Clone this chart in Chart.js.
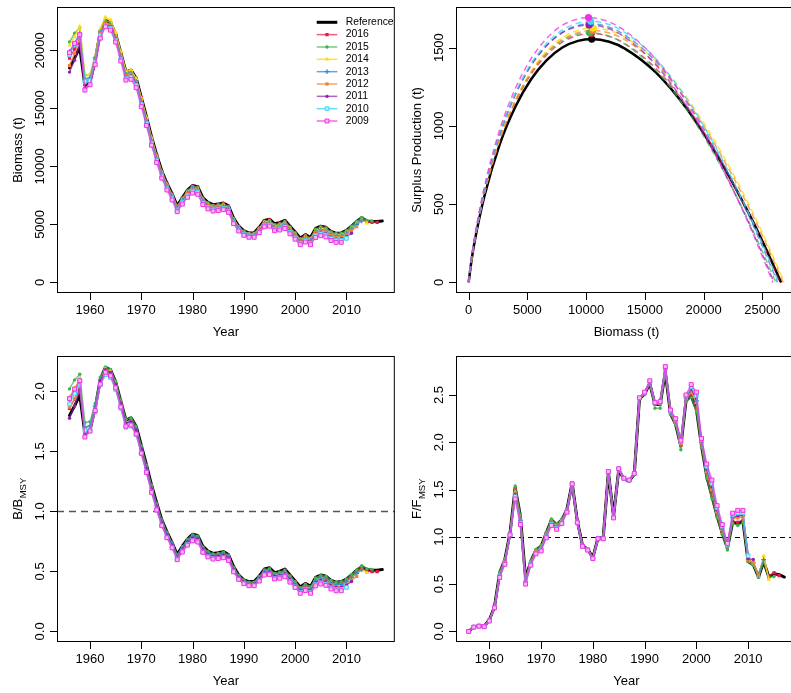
<!DOCTYPE html>
<html>
<head>
<meta charset="utf-8">
<script src="https://cdn.jsdelivr.net/npm/chart.js@4.4.1/dist/chart.umd.min.js"></script>
<style>
  html, body { margin: 0; padding: 0; background: #fff; overflow: hidden; }
  #wrap { position: relative; width: 791px; height: 693px; overflow: hidden; background: #fff; }
  canvas { position: absolute; }
</style>
</head>
<body>
<div id="wrap">
  <canvas id="bio" width="400" height="346" style="left:0;top:0;width:400px;height:346px"></canvas>
  <canvas id="sp" width="410" height="346" style="left:400px;top:0;width:410px;height:346px"></canvas>
  <canvas id="bb" width="400" height="347" style="left:0;top:346px;width:400px;height:347px"></canvas>
  <canvas id="ff" width="410" height="347" style="left:400px;top:346px;width:410px;height:347px"></canvas>
</div>
<script>
// retrospective runs: reference + peels 2016..2009
const years = [1956, 1957, 1958, 1959, 1960, 1961, 1962, 1963, 1964, 1965, 1966, 1967, 1968, 1969, 1970, 1971,
  1972, 1973, 1974, 1975, 1976, 1977, 1978, 1979, 1980, 1981, 1982, 1983, 1984, 1985, 1986, 1987, 1988, 1989,
  1990, 1991, 1992, 1993, 1994, 1995, 1996, 1997, 1998, 1999, 2000, 2001, 2002, 2003, 2004, 2005, 2006, 2007,
  2008, 2009, 2010, 2011, 2012, 2013, 2014, 2015, 2016, 2017];

const runLabels = ['2016', '2015', '2014', '2013', '2012', '2011', '2010', '2009'];
const runColors = ['#E8174B', '#3CB44B', '#FFDD10', '#2A8AD8', '#F58231', '#911EB4', '#42D4F4', '#F032E6'];
const runLineColors = ['rgba(232,23,75,0.7)', 'rgba(60,180,75,0.7)', 'rgba(255,221,16,0.85)', 'rgba(42,138,216,0.75)',
  'rgba(245,130,49,0.75)', 'rgba(145,30,180,0.7)', 'rgba(66,212,244,0.8)', 'rgba(240,50,230,0.75)'];
const runMarkers = ['rect', 'circle', 'triangle', 'cross', 'rect', 'circle', 'rect', 'rect'];
const runMarkerSize = [2.3, 1.7, 2.6, 2.4, 2.3, 1.7, 2.6, 2.8];
const runMarkerFill = ['#E8174B', '#3CB44B', '#FFDD10', '#2A8AD8', '#F58231', '#911EB4', '#B8F2FB', '#F9B8F4'];
const runMarkerBorder = [0, 0, 0, 1.2, 0, 0, 1, 1];

// Biomass (t)
const bioRef = [18500, 19350, 20250, 17000, 17300, 19150, 21600, 22600, 22400, 21400, 19800, 18150, 18300, 17600, 15950, 14300,
  12550, 11000, 9600, 8550, 7650, 6600, 7300, 7950, 8350, 8250, 7300, 6900, 6700, 6750, 6850, 6600, 5550, 4850, 4450, 4270,
  4270, 4750, 5350, 5450, 5050, 5150, 5350, 4850, 4350, 3820, 4120, 3870, 4650, 4850, 4750, 4400, 4230, 4270, 4480, 4850,
  5250, 5580, 5300, 5250, 5250, 5300];
const bio2016 = [19330, 20120, 20960, 17340, 17470, 19250, 21600, 22600, 22400, 21380, 19780, 18130, 18260, 17560, 15920, 14260,
  12510, 10970, 9560, 8520, 7610, 6570, 7260, 7910, 8310, 8210, 7260, 6850, 6650, 6700, 6800, 6550, 5490, 4800, 4410, 4230,
  4230, 4700, 5290, 5390, 4990, 5080, 5280, 4780, 4290, 3770, 4070, 3820, 4590, 4790, 4690, 4340, 4180, 4210, 4420, 4790,
  5180, 5510, 5230, 5180, 5180];
const bio2015 = [20720, 21480, 21970, 17850, 17910, 19440, 21710, 22600, 22380, 21380, 19760, 18100, 18230, 17530, 15870, 14210,
  12480, 10920, 9520, 8470, 7580, 6530, 7230, 7860, 8260, 8160, 7210, 6820, 6620, 6660, 6760, 6510, 5470, 4780, 4390, 4210,
  4210, 4670, 5260, 5350, 4950, 5050, 5240, 4740, 4250, 3720, 4030, 3790, 4570, 4780, 4690, 4360, 4200, 4250, 4470, 4850,
  5260, 5610, 5340, 5300];
const bio2014 = [20440, 21190, 22070, 17770, 17910, 19530, 21860, 22870, 22620, 21550, 19900, 18200, 18320, 17560, 15890, 14210,
  12440, 10880, 9480, 8420, 7510, 6470, 7150, 7780, 8170, 8060, 7130, 6730, 6530, 6580, 6670, 6420, 5400, 4710, 4320, 4150,
  4140, 4600, 5170, 5250, 4850, 4940, 5120, 4630, 4140, 3630, 3920, 3680, 4430, 4630, 4540, 4210, 4050, 4100, 4300, 4670,
  5060, 5380, 5110];
const bio2013 = [19890, 20610, 21470, 17510, 17650, 19340, 21600, 22370, 22150, 21140, 19540, 17900, 18030, 17320, 15670, 14030,
  12300, 10770, 9390, 8350, 7470, 6440, 7110, 7740, 8120, 8010, 7080, 6690, 6490, 6530, 6620, 6370, 5350, 4670, 4280, 4100,
  4100, 4550, 5100, 5190, 4790, 4870, 5050, 4560, 4080, 3570, 3860, 3630, 4370, 4560, 4470, 4150, 3990, 4040, 4240, 4600,
  4980, 5300];
const bio2012 = [18690, 19740, 20860, 17170, 17390, 19150, 21490, 22370, 22130, 21100, 19500, 17840, 17950, 17230, 15590, 13960,
  12220, 10690, 9310, 8280, 7400, 6370, 7040, 7660, 8030, 7930, 7010, 6620, 6420, 6460, 6550, 6300, 5290, 4620, 4240, 4060,
  4060, 4500, 5050, 5120, 4730, 4800, 4980, 4500, 4020, 3510, 3790, 3560, 4270, 4450, 4360, 4030, 3880, 3910, 4100, 4440,
  4800];
const bio2011 = [18130, 19160, 20550, 16750, 17040, 18860, 21280, 22260, 22020, 20990, 19380, 17710, 17820, 17110, 15470, 13840,
  12120, 10600, 9230, 8200, 7320, 6300, 6960, 7580, 7950, 7850, 6940, 6550, 6350, 6390, 6480, 6240, 5240, 4570, 4190, 4020,
  4010, 4450, 4980, 5050, 4660, 4730, 4880, 4410, 3930, 3440, 3700, 3460, 4150, 4320, 4220, 3890, 3730, 3760, 3930, 4240];
const bio2010 = [19610, 20510, 21260, 17340, 17390, 18960, 21280, 22150, 21900, 20870, 19260, 17610, 17710, 16980, 15350, 13730,
  12020, 10510, 9140, 8120, 7250, 6240, 6890, 7490, 7860, 7760, 6850, 6470, 6270, 6300, 6390, 6150, 5160, 4510, 4130, 3950,
  3950, 4370, 4900, 4960, 4570, 4640, 4790, 4320, 3850, 3360, 3610, 3370, 4040, 4190, 4090, 3770, 3610, 3630, 3790];
const bio2009 = [19800, 20610, 21360, 16580, 17040, 18770, 21060, 22040, 21750, 20720, 19090, 17440, 17510, 16790, 15150, 13530,
  11830, 10330, 8990, 7970, 7110, 6100, 6750, 7340, 7700, 7600, 6720, 6340, 6150, 6190, 6270, 6040, 5070, 4430, 4060, 3890,
  3890, 4290, 4800, 4850, 4460, 4520, 4650, 4190, 3730, 3250, 3480, 3250, 3880, 4030, 3920, 3610, 3450, 3460];

// B/Bmsy
const bbRef = [1.80, 1.88, 1.97, 1.65, 1.68, 1.86, 2.10, 2.20, 2.18, 2.08, 1.92, 1.76, 1.78, 1.71, 1.55, 1.39, 1.22, 1.07,
  0.93, 0.83, 0.74, 0.64, 0.71, 0.77, 0.81, 0.80, 0.71, 0.67, 0.65, 0.655, 0.665, 0.64, 0.54, 0.47, 0.43, 0.415, 0.415,
  0.46, 0.52, 0.53, 0.49, 0.50, 0.52, 0.47, 0.42, 0.37, 0.40, 0.375, 0.45, 0.47, 0.46, 0.425, 0.41, 0.415, 0.435, 0.47,
  0.51, 0.54, 0.515, 0.51, 0.51, 0.515];
const bb2016 = [1.859, 1.935, 2.015, 1.667, 1.68, 1.851, 2.077, 2.173, 2.154, 2.056, 1.902, 1.743, 1.756, 1.688, 1.531, 1.371,
  1.203, 1.055, 0.919, 0.819, 0.732, 0.632, 0.698, 0.761, 0.799, 0.789, 0.698, 0.659, 0.639, 0.644, 0.654, 0.63, 0.528,
  0.462, 0.424, 0.407, 0.407, 0.452, 0.509, 0.518, 0.48, 0.488, 0.508, 0.46, 0.412, 0.363, 0.391, 0.367, 0.441, 0.461,
  0.451, 0.417, 0.402, 0.405, 0.425, 0.461, 0.498, 0.53, 0.503, 0.498, 0.498];
const bb2015 = [2.021, 2.096, 2.143, 1.741, 1.747, 1.897, 2.118, 2.205, 2.183, 2.086, 1.928, 1.766, 1.779, 1.71, 1.548, 1.386,
  1.218, 1.065, 0.929, 0.826, 0.74, 0.637, 0.705, 0.767, 0.806, 0.796, 0.703, 0.665, 0.646, 0.65, 0.66, 0.635, 0.534,
  0.466, 0.428, 0.411, 0.411, 0.456, 0.513, 0.522, 0.483, 0.493, 0.511, 0.462, 0.415, 0.363, 0.393, 0.37, 0.446, 0.466,
  0.458, 0.425, 0.41, 0.415, 0.436, 0.473, 0.513, 0.547, 0.521, 0.517];
const bb2014 = [1.956, 2.028, 2.112, 1.70, 1.714, 1.869, 2.092, 2.189, 2.165, 2.062, 1.904, 1.742, 1.753, 1.68, 1.521, 1.36,
  1.19, 1.041, 0.907, 0.806, 0.719, 0.619, 0.684, 0.744, 0.782, 0.771, 0.682, 0.644, 0.625, 0.63, 0.638, 0.614, 0.517,
  0.451, 0.413, 0.397, 0.396, 0.44, 0.495, 0.502, 0.464, 0.473, 0.49, 0.443, 0.396, 0.347, 0.375, 0.352, 0.424, 0.443,
  0.434, 0.403, 0.388, 0.392, 0.411, 0.447, 0.484, 0.515, 0.489];
const bb2013 = [1.931, 2.001, 2.084, 1.70, 1.714, 1.878, 2.097, 2.172, 2.15, 2.052, 1.897, 1.738, 1.75, 1.682, 1.521, 1.362,
  1.194, 1.046, 0.912, 0.811, 0.725, 0.625, 0.69, 0.751, 0.788, 0.778, 0.687, 0.65, 0.63, 0.634, 0.643, 0.618, 0.519,
  0.453, 0.416, 0.398, 0.398, 0.442, 0.495, 0.504, 0.465, 0.473, 0.49, 0.443, 0.396, 0.347, 0.375, 0.352, 0.424, 0.443,
  0.434, 0.403, 0.387, 0.392, 0.412, 0.447, 0.483, 0.515];
const bb2012 = [1.87, 1.94, 2.04, 1.643, 1.664, 1.833, 2.056, 2.141, 2.118, 2.019, 1.866, 1.707, 1.718, 1.649, 1.492, 1.336,
  1.169, 1.023, 0.891, 0.792, 0.708, 0.61, 0.674, 0.733, 0.768, 0.759, 0.671, 0.633, 0.614, 0.618, 0.627, 0.603, 0.506,
  0.442, 0.406, 0.389, 0.389, 0.431, 0.483, 0.49, 0.453, 0.459, 0.477, 0.431, 0.385, 0.336, 0.363, 0.341, 0.409, 0.426,
  0.417, 0.386, 0.371, 0.374, 0.392, 0.425, 0.459];
const bb2011 = [1.777, 1.878, 2.015, 1.642, 1.671, 1.849, 2.086, 2.182, 2.159, 2.058, 1.90, 1.736, 1.747, 1.677, 1.517, 1.357,
  1.188, 1.039, 0.905, 0.804, 0.718, 0.618, 0.682, 0.743, 0.779, 0.77, 0.68, 0.642, 0.623, 0.626, 0.635, 0.612, 0.514,
  0.448, 0.411, 0.394, 0.393, 0.436, 0.488, 0.495, 0.457, 0.464, 0.478, 0.432, 0.385, 0.337, 0.363, 0.339, 0.407, 0.424,
  0.414, 0.381, 0.366, 0.369, 0.385, 0.416];
const bb2010 = [1.895, 1.982, 2.054, 1.675, 1.68, 1.832, 2.056, 2.14, 2.116, 2.016, 1.861, 1.701, 1.711, 1.641, 1.483, 1.327,
  1.161, 1.015, 0.883, 0.785, 0.70, 0.603, 0.666, 0.724, 0.759, 0.75, 0.662, 0.625, 0.606, 0.609, 0.617, 0.594, 0.499,
  0.436, 0.399, 0.382, 0.382, 0.422, 0.473, 0.479, 0.442, 0.448, 0.463, 0.417, 0.372, 0.325, 0.349, 0.326, 0.39, 0.405,
  0.395, 0.364, 0.349, 0.351, 0.366];
const bb2009 = [1.94, 2.02, 2.09, 1.62, 1.67, 1.84, 2.06, 2.16, 2.13, 2.03, 1.87, 1.71, 1.72, 1.645, 1.485, 1.326, 1.159,
  1.012, 0.881, 0.781, 0.697, 0.598, 0.661, 0.719, 0.755, 0.745, 0.659, 0.621, 0.603, 0.607, 0.614, 0.592, 0.497, 0.434,
  0.398, 0.381, 0.381, 0.42, 0.47, 0.475, 0.437, 0.443, 0.456, 0.411, 0.366, 0.318, 0.341, 0.318, 0.38, 0.395, 0.384,
  0.354, 0.338, 0.339];

// F/Fmsy
const ffRef = [0.00, 0.045, 0.06, 0.055, 0.12, 0.26, 0.62, 0.76, 1.04, 1.52, 1.22, 0.56, 0.74, 0.86, 0.90, 1.04, 1.18, 1.13,
  1.18, 1.29, 1.57, 1.165, 0.91, 0.87, 0.78, 0.99, 0.99, 1.68, 1.22, 1.71, 1.61, 1.59, 1.66, 2.46, 2.51, 2.62, 2.40, 2.40,
  2.74, 2.30, 2.19, 1.96, 2.44, 2.49, 2.35, 1.96, 1.64, 1.43, 1.22, 1.04, 0.88, 1.155, 1.14, 1.165, 0.74, 0.705, 0.575,
  0.74, 0.575, 0.61, 0.60, 0.575];
const ff2016 = [0, 0.045, 0.06, 0.055, 0.119, 0.259, 0.615, 0.755, 1.038, 1.508, 1.211, 0.554, 0.736, 0.856, 0.895, 1.035,
  1.174, 1.125, 1.176, 1.287, 1.569, 1.164, 0.909, 0.869, 0.779, 0.989, 0.989, 1.681, 1.218, 1.711, 1.611, 1.591, 1.661,
  2.461, 2.512, 2.623, 2.402, 2.403, 2.746, 2.304, 2.196, 1.966, 2.446, 2.502, 2.368, 1.968, 1.653, 1.447, 1.231, 1.049,
  0.885, 1.165, 1.154, 1.177, 0.745, 0.71, 0.58, 0.745, 0.58, 0.62, 0.59];
const ff2015 = [0, 0.045, 0.061, 0.056, 0.122, 0.262, 0.628, 0.768, 1.043, 1.538, 1.234, 0.569, 0.746, 0.866, 0.908, 1.048,
  1.189, 1.138, 1.186, 1.295, 1.572, 1.167, 0.912, 0.872, 0.782, 0.992, 0.992, 1.679, 1.223, 1.709, 1.609, 1.589, 1.659,
  2.459, 2.507, 2.616, 2.36, 2.36, 2.731, 2.294, 2.181, 1.92, 2.431, 2.472, 2.323, 1.948, 1.62, 1.405, 1.204, 1.027,
  0.86, 1.141, 1.119, 1.148, 0.735, 0.70, 0.57, 0.735, 0.57, 0.58];
const ff2014 = [0, 0.045, 0.058, 0.053, 0.116, 0.256, 0.60, 0.74, 1.032, 1.472, 1.184, 0.536, 0.724, 0.844, 0.88, 1.02,
  1.156, 1.11, 1.164, 1.278, 1.566, 1.159, 0.906, 0.866, 0.776, 0.986, 0.986, 1.684, 1.212, 1.714, 1.614, 1.594, 1.664,
  2.464, 2.518, 2.632, 2.408, 2.412, 2.764, 2.316, 2.214, 1.984, 2.464, 2.538, 2.422, 1.992, 1.692, 1.498, 1.264, 1.076,
  0.90, 1.193, 1.196, 1.211, 0.755, 0.72, 0.585, 0.80, 0.55];
const ff2013 = [0, 0.045, 0.058, 0.053, 0.115, 0.255, 0.595, 0.735, 1.03, 1.46, 1.175, 0.53, 0.72, 0.84, 0.875, 1.015,
  1.15, 1.105, 1.16, 1.275, 1.565, 1.158, 0.905, 0.865, 0.775, 0.985, 0.985, 1.685, 1.21, 1.715, 1.615, 1.595, 1.665,
  2.465, 2.52, 2.635, 2.41, 2.415, 2.77, 2.32, 2.22, 1.99, 2.47, 2.55, 2.44, 2.0, 1.705, 1.515, 1.275, 1.085, 0.905,
  1.203, 1.21, 1.223, 0.76, 0.725, 0.59, 0.76];
const ff2012 = [0, 0.045, 0.058, 0.053, 0.115, 0.255, 0.598, 0.738, 1.031, 1.466, 1.18, 0.533, 0.722, 0.842, 0.878, 1.018,
  1.153, 1.108, 1.162, 1.277, 1.566, 1.158, 0.906, 0.866, 0.776, 0.986, 0.986, 1.685, 1.211, 1.715, 1.615, 1.595, 1.665,
  2.465, 2.519, 2.634, 2.409, 2.414, 2.767, 2.318, 2.217, 1.987, 2.467, 2.544, 2.431, 1.996, 1.699, 1.507, 1.27, 1.081,
  0.903, 1.198, 1.203, 1.217, 0.76, 0.73, 0.60];
const ff2011 = [0, 0.045, 0.057, 0.052, 0.114, 0.254, 0.59, 0.73, 1.028, 1.448, 1.166, 0.524, 0.716, 0.836, 0.87, 1.01,
  1.144, 1.10, 1.156, 1.272, 1.564, 1.156, 0.904, 0.864, 0.774, 0.984, 0.984, 1.686, 1.208, 1.716, 1.616, 1.596, 1.666,
  2.466, 2.522, 2.638, 2.412, 2.418, 2.776, 2.324, 2.226, 1.996, 2.476, 2.562, 2.458, 2.008, 1.718, 1.532, 1.286, 1.094,
  0.91, 1.212, 1.224, 1.234, 0.77, 0.76];
const ff2010 = [0, 0.045, 0.056, 0.051, 0.112, 0.252, 0.58, 0.72, 1.024, 1.424, 1.148, 0.512, 0.708, 0.828, 0.86, 1.0,
  1.132, 1.09, 1.148, 1.266, 1.562, 1.153, 0.902, 0.862, 0.772, 0.982, 0.982, 1.688, 1.204, 1.718, 1.618, 1.598, 1.668,
  2.468, 2.526, 2.644, 2.416, 2.424, 2.788, 2.332, 2.238, 2.008, 2.488, 2.586, 2.494, 2.024, 1.744, 1.566, 1.308, 1.112,
  0.92, 1.231, 1.252, 1.257, 0.80];
const ff2009 = [0, 0.045, 0.055, 0.05, 0.11, 0.25, 0.57, 0.71, 1.02, 1.40, 1.13, 0.50, 0.70, 0.82, 0.85, 0.99, 1.12, 1.08,
  1.14, 1.26, 1.56, 1.15, 0.90, 0.86, 0.77, 0.98, 0.98, 1.69, 1.20, 1.72, 1.62, 1.60, 1.67, 2.47, 2.53, 2.65, 2.42, 2.43,
  2.80, 2.34, 2.25, 2.02, 2.50, 2.61, 2.53, 2.04, 1.77, 1.60, 1.33, 1.13, 0.93, 1.25, 1.28, 1.28];

// surplus production curves: biomass (t) and production (t), sampled along each curve
const spBRef = [0, 266, 532, 1330, 2660, 3990, 5320, 6650, 7980, 9310, 10480, 11970, 13300, 15960, 18620, 21280, 23940, 25270, 26600];
const spPRef = [0, 151, 269, 547, 885, 1124, 1298, 1420, 1501, 1543, 1555, 1538, 1494, 1340, 1104, 796, 428, 221, 0];
const spB2016 = [0, 265, 530, 1325, 2650, 3975, 5300, 6625, 7950, 9275, 10441, 11925, 13250, 15900, 18550, 21200, 23850, 25175, 26500];
const spP2016 = [0, 154, 275, 560, 905, 1150, 1328, 1452, 1534, 1577, 1590, 1573, 1528, 1371, 1129, 814, 437, 226, 0];
const spB2015 = [0, 262, 523, 1308, 2615, 3923, 5230, 6538, 7845, 9153, 10303, 11768, 13075, 15690, 18305, 20920, 23535, 24843, 26150];
const spP2015 = [0, 155, 276, 561, 908, 1153, 1332, 1456, 1539, 1582, 1595, 1577, 1533, 1375, 1132, 817, 439, 226, 0];
const spB2014 = [0, 269, 538, 1344, 2688, 4032, 5376, 6720, 8064, 9408, 10591, 12096, 13440, 16128, 18816, 21504, 24192, 25536, 26880];
const spP2014 = [0, 158, 281, 572, 925, 1175, 1357, 1484, 1568, 1612, 1625, 1607, 1562, 1401, 1154, 832, 447, 231, 0];
const spB2013 = [0, 263, 526, 1315, 2630, 3945, 5260, 6575, 7890, 9205, 10362, 11835, 13150, 15780, 18410, 21040, 23670, 24985, 26300];
const spP2013 = [0, 160, 286, 582, 940, 1194, 1379, 1508, 1594, 1639, 1652, 1634, 1588, 1424, 1173, 846, 454, 235, 0];
const spB2012 = [0, 268, 535, 1339, 2677, 4016, 5354, 6693, 8031, 9370, 10547, 12047, 13385, 16062, 18739, 21416, 24093, 25432, 26770];
const spP2012 = [0, 156, 279, 567, 916, 1164, 1344, 1470, 1554, 1597, 1610, 1592, 1547, 1388, 1143, 824, 443, 229, 0];
const spB2011 = [0, 260, 520, 1300, 2600, 3900, 5200, 6500, 7800, 9100, 10244, 11700, 13000, 15600, 18200, 20800, 23400, 24700, 26000];
const spP2011 = [0, 160, 285, 579, 936, 1189, 1374, 1502, 1587, 1632, 1645, 1627, 1581, 1418, 1168, 842, 452, 234, 0];
const spB2010 = [0, 264, 528, 1319, 2638, 3957, 5276, 6595, 7914, 9233, 10394, 11871, 13190, 15828, 18466, 21104, 23742, 25061, 26380];
const spP2010 = [0, 162, 289, 587, 949, 1206, 1393, 1523, 1610, 1655, 1668, 1650, 1603, 1438, 1184, 854, 459, 237, 0];
const spB2009 = [0, 259, 518, 1295, 2590, 3885, 5180, 6475, 7770, 9065, 10205, 11655, 12950, 15540, 18130, 20720, 23310, 24605, 25900];
const spP2009 = [0, 164, 293, 596, 963, 1223, 1413, 1545, 1633, 1678, 1692, 1673, 1626, 1459, 1201, 866, 465, 240, 0];
// Bmsy / MSY points (ref first, then 2016..2009)
const peakB = [10480, 10441, 10303, 10591, 10362, 10547, 10244, 10394, 10205];
const peakMSY = [1555, 1590, 1595, 1625, 1652, 1610, 1645, 1668, 1692];

const yearTicks = [1960, 1970, 1980, 1990, 2000, 2010];

const FONT = '"Liberation Sans", Arial, Helvetica, sans-serif';

const toXY = (xs, ys) => ys.map((v, i) => ({ x: xs[i], y: v }));

function tsDatasets(ref, runs) {
  const ds = [{
    data: toXY(years, ref), borderColor: '#000', borderWidth: 3, pointRadius: 0,
    borderJoinStyle: 'round', borderCapStyle: 'round', order: 20
  }];
  runs.forEach((vals, i) => ds.push({
    data: toXY(years, vals),
    borderColor: runLineColors[i], borderWidth: 1.5, borderJoinStyle: 'round',
    pointStyle: runMarkers[i], pointRadius: runMarkerSize[i],
    pointBackgroundColor: runMarkerFill[i], pointBorderColor: runColors[i],
    pointBorderWidth: runMarkerBorder[i], order: 10 - i
  }));
  return ds;
}

function drawYTitle(ctx, x, y, main, sub) {
  ctx.save();
  ctx.translate(x, y);
  ctx.rotate(-Math.PI / 2);
  ctx.font = '13px ' + FONT;
  const w1 = ctx.measureText(main).width;
  ctx.font = '9.5px ' + FONT;
  const w2 = sub ? ctx.measureText(sub).width : 0;
  const start = -(w1 + w2) / 2;
  ctx.textAlign = 'left';
  ctx.textBaseline = 'alphabetic';
  ctx.fillStyle = '#000';
  ctx.font = '13px ' + FONT;
  ctx.fillText(main, start, 4.6);
  if (sub) {
    ctx.font = '9.5px ' + FONT;
    ctx.fillText(sub, start + w1 + 0.5, 8.2);
  }
  ctx.restore();
}

function drawLegend(ctx) {
  const x0 = 316.7, x1 = 337.3, tx = 345.7, y0 = 22.3, dy = 12.34;
  ctx.save();
  ctx.font = '10.4px ' + FONT;
  ctx.textAlign = 'left';
  ctx.textBaseline = 'middle';
  ctx.lineCap = 'butt';
  ctx.strokeStyle = '#000';
  ctx.lineWidth = 3;
  ctx.beginPath(); ctx.moveTo(x0, y0); ctx.lineTo(x1, y0); ctx.stroke();
  ctx.fillStyle = '#000';
  ctx.fillText('Reference', tx, y0);
  runLabels.forEach((lab, i) => {
    const y = y0 + dy * (i + 1);
    ctx.strokeStyle = runLineColors[i];
    ctx.lineWidth = 1.5;
    ctx.beginPath(); ctx.moveTo(x0, y); ctx.lineTo(x1, y); ctx.stroke();
    ctx.fillStyle = runMarkerFill[i];
    ctx.strokeStyle = runColors[i];
    ctx.lineWidth = runMarkerBorder[i];
    Chart.helpers.drawPoint(ctx, { pointStyle: runMarkers[i], radius: runMarkerSize[i], rotation: 0, borderWidth: runMarkerBorder[i] }, (x0 + x1) / 2, y);
    ctx.fillStyle = '#000';
    ctx.fillText(lab, tx, y);
  });
  ctx.restore();
}

// R-style frame: box, outward ticks, rotated y labels, titles
function rFrame(a) {
  return {
    id: 'rFrame',
    beforeDatasetsDraw(chart) {
      if (a.hline === undefined) return;
      const { ctx, chartArea: c, scales: { y } } = chart;
      const py = Math.round(y.getPixelForValue(a.hline)) + 0.5;
      ctx.save();
      ctx.strokeStyle = a.hlineColor;
      ctx.lineWidth = a.hlineWidth;
      ctx.setLineDash(a.hlineDash);
      ctx.beginPath(); ctx.moveTo(c.left, py); ctx.lineTo(c.right, py); ctx.stroke();
      ctx.restore();
    },
    afterDraw(chart) {
      const { ctx, chartArea: c, scales: { x, y } } = chart;
      ctx.save();
      ctx.strokeStyle = '#000';
      ctx.lineWidth = 1;
      ctx.strokeRect(c.left + 0.5, c.top + 0.5, c.right - c.left - 1, c.bottom - c.top - 1);
      ctx.beginPath();
      a.xTicks.forEach(v => {
        const px = Math.round(x.getPixelForValue(v)) + 0.5;
        ctx.moveTo(px, c.bottom); ctx.lineTo(px, c.bottom + 7);
      });
      a.yTicks.forEach(v => {
        const py = Math.round(y.getPixelForValue(v)) + 0.5;
        ctx.moveTo(c.left, py); ctx.lineTo(c.left - 7, py);
      });
      ctx.stroke();
      ctx.fillStyle = '#000';
      ctx.font = '13px ' + FONT;
      ctx.textAlign = 'center';
      ctx.textBaseline = 'middle';
      a.xTicks.forEach((v, i) => ctx.fillText(a.xText[i], x.getPixelForValue(v), c.bottom + 17));
      a.yTicks.forEach((v, i) => {
        ctx.save();
        ctx.translate(c.left - 16.5, y.getPixelForValue(v));
        ctx.rotate(-Math.PI / 2);
        ctx.fillText(a.yText[i], 0, 0);
        ctx.restore();
      });
      ctx.fillText(a.xTitle, (c.left + c.right) / 2, c.bottom + 39.5);
      ctx.restore();
      drawYTitle(ctx, c.left - 39.5, (c.top + c.bottom) / 2, a.yTitle, a.ySub);
      if (a.legend) drawLegend(ctx);
    }
  };
}

function makeChart(id, box, xr, yr, datasets, axes) {
  const cv = document.getElementById(id);
  return new Chart(cv, {
    type: 'line',
    data: { datasets },
    options: {
      responsive: false, animation: false, devicePixelRatio: 1, events: [],
      layout: { padding: { left: box.l, top: box.t, right: cv.width - box.r, bottom: cv.height - box.b } },
      scales: {
        x: { type: 'linear', display: false, min: xr[0], max: xr[1] },
        y: { type: 'linear', display: false, min: yr[0], max: yr[1] }
      },
      plugins: { legend: { display: false }, tooltip: { enabled: false } }
    },
    plugins: [rFrame(axes)]
  });
}

const yearText = yearTicks.map(String);

// Panel 1: biomass
makeChart('bio', { l: 57, t: 7, r: 398, b: 293 }, [1953.56, 2019.44], [-913.2, 23743.2],
  tsDatasets(bioRef, [bio2016, bio2015, bio2014, bio2013, bio2012, bio2011, bio2010, bio2009]),
  { xTicks: yearTicks, xText: yearText, yTicks: [0, 5000, 10000, 15000, 20000],
    yText: ['0', '5000', '10000', '15000', '20000'], xTitle: 'Year', yTitle: 'Biomass (t)', legend: true });

// Panel 2: surplus production
const spB = [spB2016, spB2015, spB2014, spB2013, spB2012, spB2011, spB2010, spB2009];
const spP = [spP2016, spP2015, spP2014, spP2013, spP2012, spP2011, spP2010, spP2009];
const spSets = [{
  data: toXY(spBRef, spPRef), borderColor: '#000', borderWidth: 2.5, pointRadius: 0,
  cubicInterpolationMode: 'monotone', order: 20
}];
spB.forEach((bs, i) => spSets.push({
  data: toXY(bs, spP[i]), borderColor: runLineColors[i], borderWidth: 1.5, borderDash: [6, 4],
  pointRadius: 0, cubicInterpolationMode: 'monotone', order: 10 - i + 1
}));
const peakColors = ['#000'].concat(runColors);
const peakOrder = [8, 7, 6, 4, 3, 5, 2, 1, 0];
peakB.forEach((b, i) => spSets.push({
  data: [{ x: b, y: peakMSY[i] }], showLine: false, pointRadius: 3.6,
  pointBackgroundColor: peakColors[i], pointBorderColor: peakColors[i], pointBorderWidth: 0,
  order: -10 + peakOrder[i]
}));
makeChart('sp', { l: 56, t: 7, r: 397, b: 293 }, [-1075.2, 27955.2], [-67.68, 1759.68], spSets,
  { xTicks: [0, 5000, 10000, 15000, 20000, 25000], xText: ['0', '5000', '10000', '15000', '20000', '25000'],
    yTicks: [0, 500, 1000, 1500], yText: ['0', '500', '1000', '1500'],
    xTitle: 'Biomass (t)', yTitle: 'Surplus Production (t)' });

// Panel 3: B/Bmsy
makeChart('bb', { l: 57, t: 10, r: 398, b: 296 }, [1953.56, 2019.44], [-0.08828, 2.29528],
  tsDatasets(bbRef, [bb2016, bb2015, bb2014, bb2013, bb2012, bb2011, bb2010, bb2009]),
  { xTicks: yearTicks, xText: yearText, yTicks: [0, 0.5, 1, 1.5, 2], yText: ['0.0', '0.5', '1.0', '1.5', '2.0'],
    xTitle: 'Year', yTitle: 'B/B', ySub: 'MSY', hline: 1, hlineColor: '#555', hlineWidth: 1.5, hlineDash: [7, 5] });

// Panel 4: F/Fmsy
makeChart('ff', { l: 56, t: 10, r: 397, b: 296 }, [1953.56, 2019.44], [-0.112, 2.912],
  tsDatasets(ffRef, [ff2016, ff2015, ff2014, ff2013, ff2012, ff2011, ff2010, ff2009]),
  { xTicks: yearTicks, xText: yearText, yTicks: [0, 0.5, 1, 1.5, 2, 2.5],
    yText: ['0.0', '0.5', '1.0', '1.5', '2.0', '2.5'],
    xTitle: 'Year', yTitle: 'F/F', ySub: 'MSY', hline: 1, hlineColor: '#000', hlineWidth: 1.2, hlineDash: [5, 4] });
</script>
</body>
</html>
